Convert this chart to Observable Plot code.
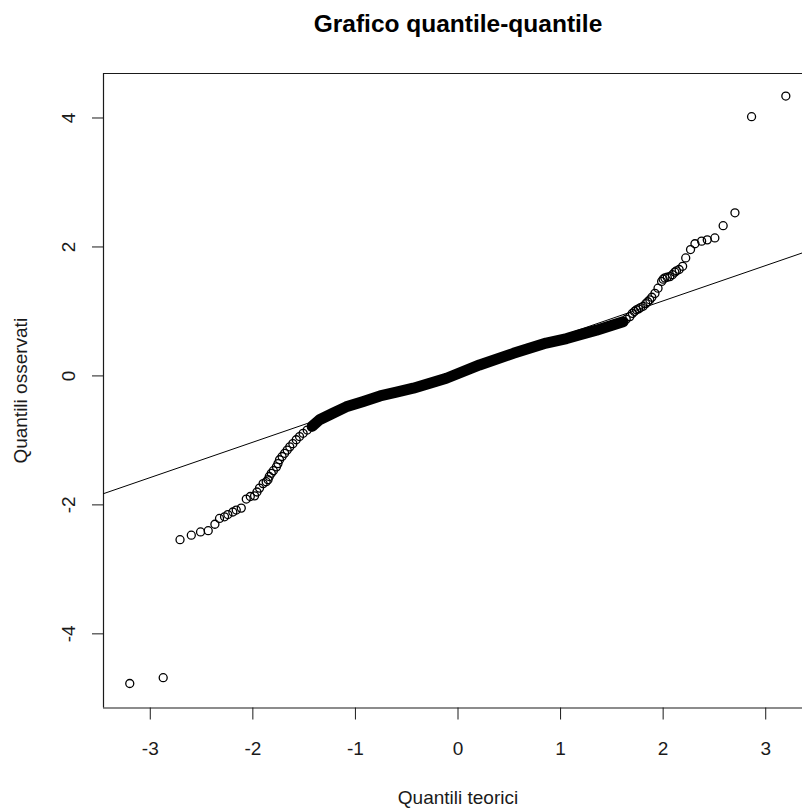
<!DOCTYPE html>
<html>
<head>
<meta charset="utf-8">
<script src="https://cdn.jsdelivr.net/npm/d3@7"></script>
<script src="https://cdn.jsdelivr.net/npm/@observablehq/plot@0.6"></script>
<style>
  html, body { margin: 0; padding: 0; background: #fff; }
  svg { display: block; }
</style>
</head>
<body>
<div id="chart"></div>
<script>
// ---- Data ----
const title = "Grafico quantile-quantile";
const xLabel = "Quantili teorici";
const yLabel = "Quantili osservati";
const xTicks = [-3, -2, -1, 0, 1, 2, 3];
const yTicks = [-4, -2, 0, 2, 4];

// individually visible points (tails): theoretical quantile, observed quantile
const lowX = [-3.20, -2.874, -2.71, -2.60, -2.51, -2.435, -2.37, -2.325, -2.276, -2.244, -2.195, -2.162, -2.113, -2.064, -2.025, -1.983, -1.96, -1.935, -1.90, -1.87, -1.852, -1.84, -1.82, -1.80, -1.77, -1.755, -1.74, -1.715, -1.69, -1.665, -1.64, -1.61, -1.577, -1.545, -1.51, -1.47, -1.43, -1.39, -1.35];
const lowY = [-4.77, -4.68, -2.54, -2.47, -2.42, -2.40, -2.30, -2.21, -2.185, -2.15, -2.11, -2.08, -2.05, -1.91, -1.87, -1.86, -1.80, -1.74, -1.67, -1.64, -1.61, -1.56, -1.51, -1.47, -1.41, -1.36, -1.30, -1.25, -1.20, -1.15, -1.10, -1.05, -0.99, -0.94, -0.89, -0.84, -0.79, -0.73, -0.68];
const highX = [1.61, 1.64, 1.675, 1.70, 1.72, 1.74, 1.76, 1.78, 1.805, 1.83, 1.85, 1.87, 1.89, 1.92, 1.95, 1.985, 2.00, 2.017, 2.04, 2.065, 2.09, 2.114, 2.13, 2.156, 2.19, 2.22, 2.267, 2.31, 2.375, 2.43, 2.504, 2.585, 2.70, 2.862, 3.196];
const highY = [0.84, 0.88, 0.92, 0.97, 1.00, 1.025, 1.04, 1.06, 1.08, 1.12, 1.15, 1.18, 1.22, 1.28, 1.36, 1.465, 1.50, 1.52, 1.53, 1.54, 1.57, 1.61, 1.63, 1.65, 1.70, 1.83, 1.96, 2.05, 2.09, 2.11, 2.14, 2.33, 2.53, 4.02, 4.34];

// dense central band of overlapping points (path)
const bandX = [-1.42, -1.35, -1.22, -1.09, -0.93, -0.76, -0.60, -0.436, -0.113, 0.21, 0.54, 0.86, 1.06, 1.19, 1.35, 1.51, 1.61];
const bandY = [-0.78, -0.68, -0.58, -0.48, -0.40, -0.31, -0.25, -0.19, -0.036, 0.17, 0.35, 0.51, 0.58, 0.64, 0.71, 0.79, 0.84];

// reference line (qqline)
const lineIntercept = 0.068;
const lineSlope = 0.548;

// axis limits (R adds 4% to the data range)
const xDomain = [-3.456, 3.456];
const yDomain = [-5.15, 4.69];

// ---- Build tables ----
const points = [...lowX.map((x, i) => ({x, y: lowY[i]})), ...highX.map((x, i) => ({x, y: highY[i]}))];
const band = bandX.map((x, i) => ({x, y: bandY[i]}));
const refLine = xDomain.map(x => ({x, y: lineIntercept + lineSlope * x}));

const font = "'Liberation Sans', Arial, Helvetica, sans-serif";
const ink = "#1a1a1a";

const chart = Plot.plot({
  width: 802,
  height: 810,
  marginLeft: 103,
  marginRight: 0,
  marginTop: 73,
  marginBottom: 102.5,
  style: {fontFamily: font, background: "#fff", color: ink},
  x: {domain: xDomain, range: [103, 812]},
  y: {domain: yDomain},
  marks: [
    // frame (right side is outside the picture)
    Plot.ruleY(yDomain, {stroke: ink, strokeWidth: 1.2}),
    Plot.ruleX([xDomain[0]], {stroke: ink, strokeWidth: 1.2}),
    // ticks
    Plot.axisX({ticks: xTicks, tickSize: 12, tickFormat: () => "", label: null, stroke: ink}),
    Plot.axisY({ticks: yTicks, tickSize: 11, tickFormat: () => "", label: null, stroke: ink}),
    // tick labels
    Plot.text(xTicks, {x: d => d, text: d => String(d), frameAnchor: "bottom", dy: 41, lineAnchor: "middle", fontSize: 19, fill: ink}),
    Plot.text(yTicks, {y: d => d, text: d => String(d), frameAnchor: "left", dx: -35, rotate: -90, textAnchor: "middle", lineAnchor: "middle", fontSize: 19, fill: ink}),
    // axis titles
    Plot.text([0], {x: d => d, text: () => xLabel, frameAnchor: "bottom", dy: 90, lineAnchor: "middle", fontSize: 19, fill: ink}),
    Plot.text([yLabel], {text: d => d, frameAnchor: "left", dx: -83, rotate: -90, textAnchor: "middle", lineAnchor: "middle", fontSize: 19, fill: ink}),
    // title
    Plot.text([0], {x: d => d, text: () => title, frameAnchor: "top", dy: -42, lineAnchor: "bottom", fontSize: 24.5, fontWeight: "bold", fill: "#000"}),
    // data
    Plot.line(band, {x: "x", y: "y", stroke: "#000", strokeWidth: 11}),
    Plot.dot(band, {x: "x", y: "y", r: 4, stroke: "#000", strokeWidth: 1.3, fill: "none"}),
    Plot.dot(points, {x: "x", y: "y", r: 4, stroke: "#000", strokeWidth: 1.3, fill: "none"}),
    Plot.line(refLine, {x: "x", y: "y", stroke: "#000", strokeWidth: 1})
  ]
});
document.getElementById("chart").appendChild(chart);
</script>
</body>
</html>
